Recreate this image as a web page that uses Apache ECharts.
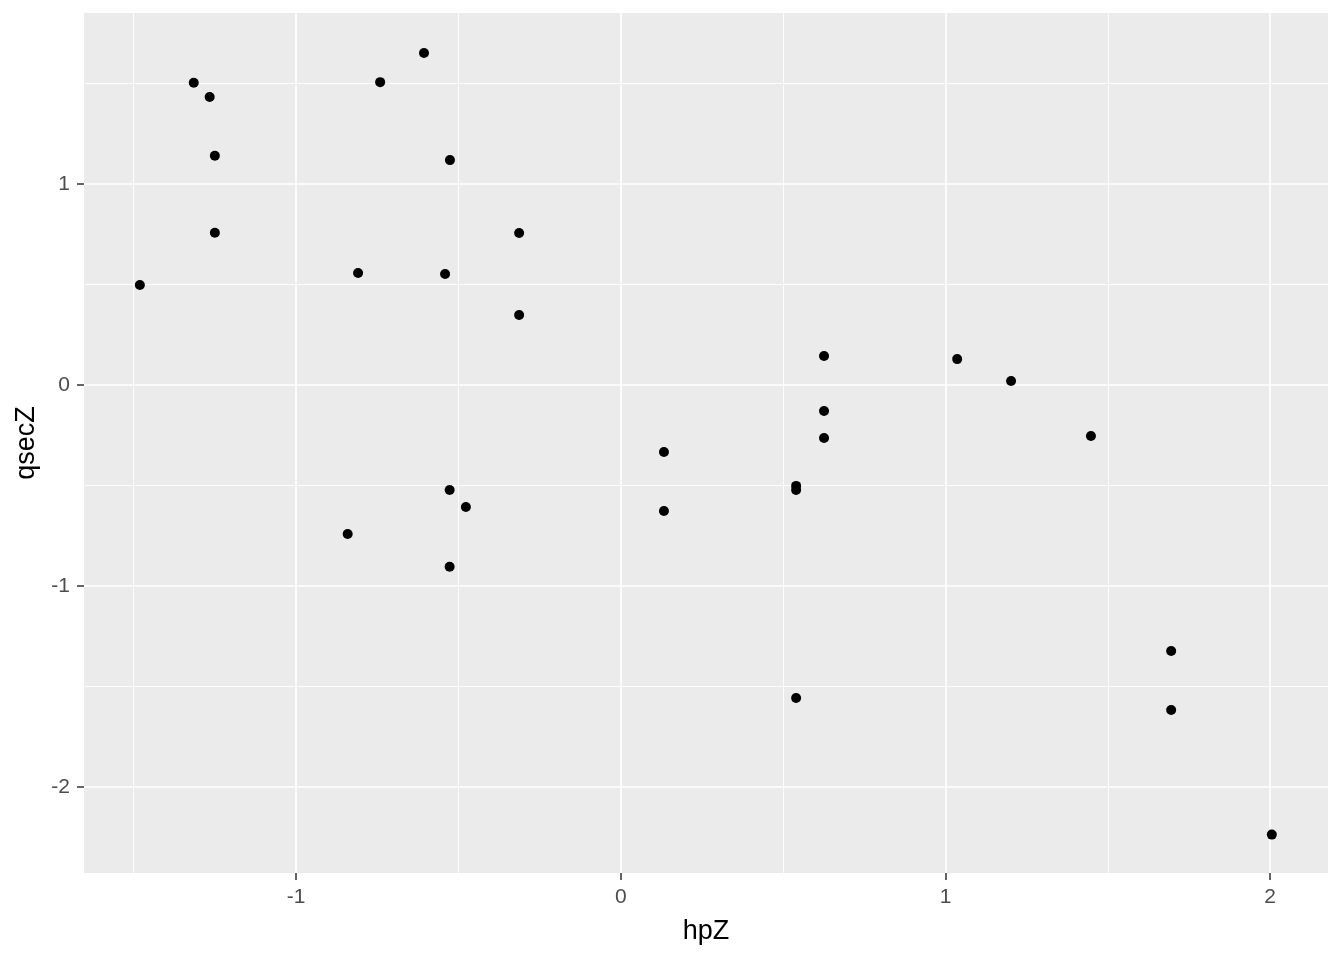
<!DOCTYPE html>
<html>
<head>
<meta charset="utf-8">
<script src="https://cdn.jsdelivr.net/npm/echarts@6/dist/echarts.min.js"></script>
<style>html,body{margin:0;padding:0;background:#fff;}#chart{width:1344px;height:960px;}</style>
</head>
<body>
<div id="chart"></div>
<script>
// Data
const hpZ = [-1.481, -1.315, -1.266, -1.250, -1.250, -0.741, -0.606, -0.526, -0.809, -0.541,
             -0.313, -0.313, -0.841, -0.527, -0.477, -0.527, 0.133, 0.133, 0.540, 0.540,
             0.540, 0.626, 0.626, 0.626, 1.036, 1.202, 1.448, 1.695, 1.695, 2.005];
const qsecZ = [0.498, 1.504, 1.433, 1.141, 0.758, 1.507, 1.652, 1.119, 0.557, 0.552,
               0.756, 0.348, -0.741, -0.522, -0.607, -0.904, -0.333, -0.627, -0.502, -0.522,
               -1.557, 0.144, -0.129, -0.264, 0.129, 0.020, -0.254, -1.323, -1.617, -2.237];
const xTicks = [-1, 0, 1, 2];
const yTicks = [-2, -1, 0, 1];
const xRange = [-1.653, 2.178];
const yRange = [-2.428, 1.851];
const xTitle = 'hpZ';
const yTitle = 'qsecZ';

const points = hpZ.map((x, i) => [x, qsecZ[i]]);
const FONT = '"Liberation Sans", Arial, sans-serif';

const chart = echarts.init(document.getElementById('chart'), null, {renderer: 'canvas'});
const axisCommon = {
  type: 'value',
  minInterval: 1,
  maxInterval: 1,
  axisLine: {show: false, onZero: false},
  axisTick: {show: true, inside: false, length: 7, lineStyle: {color: '#333333', width: 1.5}},
  splitLine: {show: true, lineStyle: {color: '#FFFFFF', width: 1.7}},
  minorTick: {show: false, splitNumber: 2},
  minorSplitLine: {show: true, lineStyle: {color: '#FFFFFF', width: 0.9}},
  nameLocation: 'middle',
  nameTextStyle: {color: '#000000', fontSize: 27, fontFamily: FONT}
};
chart.setOption({
  animation: false,
  backgroundColor: '#FFFFFF',
  grid: {left: 84, right: 16, top: 13, bottom: 87, show: true, backgroundColor: '#EBEBEB', borderWidth: 0, containLabel: false},
  xAxis: Object.assign({}, axisCommon, {
    min: xRange[0], max: xRange[1],
    name: xTitle, nameGap: 45,
    axisTick: Object.assign({}, axisCommon.axisTick, {customValues: xTicks}),
    axisLabel: {customValues: xTicks, color: '#4D4D4D', fontSize: 21, fontFamily: FONT, margin: 14}
  }),
  yAxis: Object.assign({}, axisCommon, {
    min: yRange[0], max: yRange[1],
    name: yTitle, nameGap: 41, nameRotate: 90,
    axisTick: Object.assign({}, axisCommon.axisTick, {customValues: yTicks}),
    axisLabel: {customValues: yTicks, color: '#4D4D4D', fontSize: 21, fontFamily: FONT, margin: 14}
  }),
  series: [{
    type: 'scatter',
    data: points,
    symbol: 'circle',
    symbolSize: 10,
    itemStyle: {color: '#000000', opacity: 1},
    emphasis: {disabled: true}
  }]
});
</script>
</body>
</html>
